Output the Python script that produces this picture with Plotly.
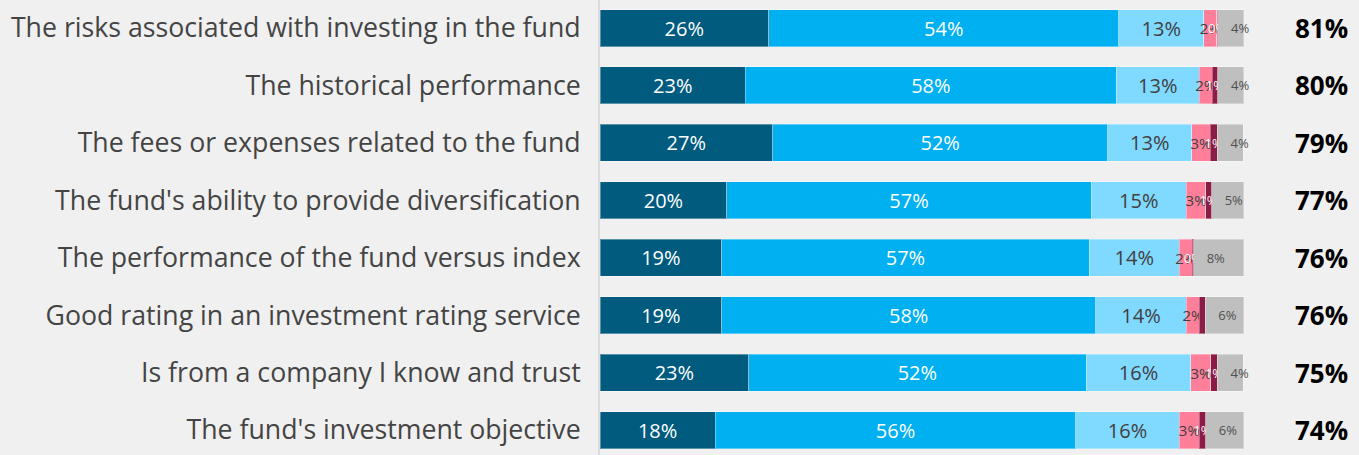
import plotly.graph_objects as go

categories = [
    "The risks associated with investing in the fund",
    "The historical performance",
    "The fees or expenses related to the fund",
    "The fund's ability to provide diversification",
    "The performance of the fund versus index",
    "Good rating in an investment rating service",
    "Is from a company I know and trust",
    "The fund's investment objective",
]

very_important = [26.2, 22.6, 26.8, 19.7, 18.9, 18.9, 23.1, 17.9]
somewhat_important = [54.4, 57.6, 52.1, 56.6, 57.1, 58.1, 52.4, 56.0]
neutral = [13.2, 12.9, 13.0, 14.8, 14.0, 14.1, 16.3, 16.1]
not_very_important = [2.0, 2.0, 2.9, 3.0, 2.0, 2.0, 3.1, 3.1]
not_at_all_important = [0.2, 0.9, 1.1, 0.9, 0.2, 0.9, 1.0, 1.0]
dont_know = [4.0, 4.0, 4.0, 5.0, 7.8, 6.0, 4.0, 5.9]
maroon_label_shown = [True, True, True, True, True, False, True, True]

totals = [81, 80, 79, 77, 76, 76, 75, 74]

NBSP = "\u00a0"

series = [
    ("Very important", very_important, "#005b7f", "white", 20, "middle", "%{x:.0f}%"),
    ("Somewhat important", somewhat_important, "#00b0f0", "white", 20, "middle", "%{x:.0f}%"),
    ("Neutral", neutral, "#80d9ff", "#404040", 20, "middle", "%{x:.0f}%"),
    ("Not very important", not_very_important, "#ff7f9b", "#404040", 15, "middle", "%{x:.0f}%"),
    ("Not at all important", not_at_all_important, "#8b1c45", "white", 13, "middle",
     ["%{x:.0f}%" if s else "" for s in maroon_label_shown]),
    ("Don't know", dont_know, "#bfbfbf", "#505050", 13, "start", NBSP * 3 + "%{x:.0f}%"),
]

fig = go.Figure()
for name, vals, color, tcolor, tsize, anchor, tmpl in series:
    fig.add_trace(go.Bar(
        name=name,
        y=categories,
        x=vals,
        orientation="h",
        width=0.645,
        marker=dict(color=color, line=dict(color="rgba(255,255,255,0.35)", width=1)),
        texttemplate=tmpl,
        textposition="inside",
        insidetextanchor=anchor,
        textangle=0,
        constraintext="none",
        textfont=dict(color=tcolor, size=tsize, family="Open Sans"),
        cliponaxis=False,
        hoverinfo="x+name",
    ))

for cat, tot in zip(categories, totals):
    fig.add_annotation(
        x=1.1623, y=cat, xref="paper", yref="y",
        text=f"<b>{tot}%</b>", showarrow=False,
        xanchor="right", yanchor="middle",
        font=dict(size=26, color="black", family="Open Sans"),
    )

fig.update_layout(
    barmode="stack",
    width=1359, height=455,
    margin=dict(l=600, r=113.7, t=0, b=0),
    paper_bgcolor="#f0f0f0",
    plot_bgcolor="#f0f0f0",
    showlegend=False,
    font=dict(family="Open Sans"),
)
fig.update_xaxes(range=[0, 100.2], visible=False, showgrid=False, zeroline=False)
fig.update_yaxes(
    range=[7.435, -0.488],
    showgrid=False, zeroline=False,
    showline=True, linecolor="#dcdcdc", linewidth=2,
    ticks="", ticklabelstandoff=12,
    tickfont=dict(size=26.7, color="#444444", family="Open Sans"),
)

fig.write_html(
    "out.html",
    config={"displayModeBar": False},
    post_script="document.body.style.margin='0';document.body.style.overflow='hidden';",
)
